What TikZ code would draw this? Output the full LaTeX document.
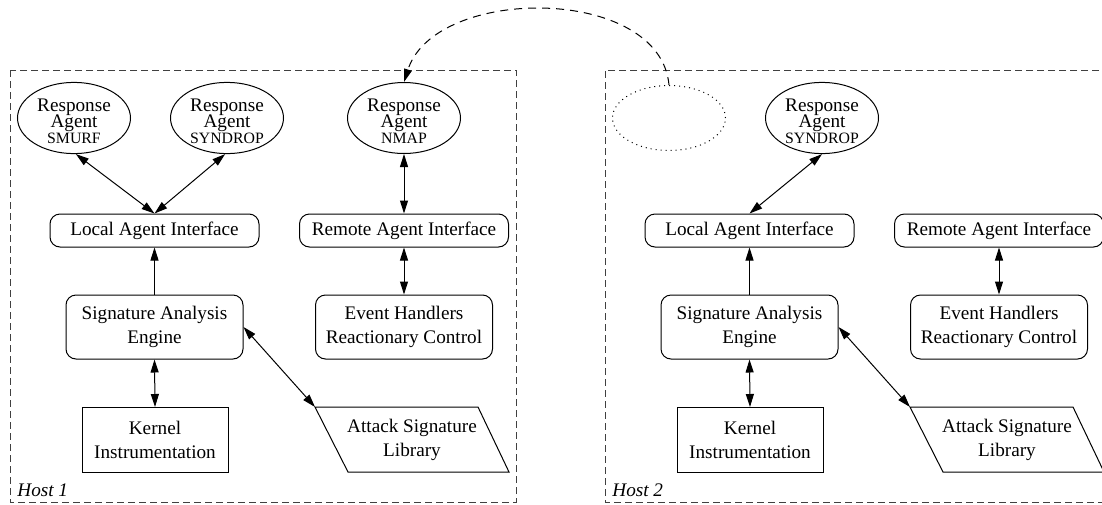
\documentclass[tikz,border=0pt]{standalone}
\usepackage{fontspec}
\setmainfont{Liberation Serif}
\usetikzlibrary{arrows.meta,shapes.geometric}
\tikzset{tip/.tip={Triangle[length=6.5pt,width=4pt]}}
\newcommand{\agentfont}{\fontsize{9.6}{7.9}\selectfont\lineskiplimit=-100pt\relax}
\newcommand{\smallcap}[1]{{\fontsize{7.9}{7.9}\selectfont #1}}
\newcommand{\topstrut}{\rule{0pt}{9.3pt}}
\begin{document}
\begin{tikzpicture}[x=0.5pt,y=-0.5pt,
  every node/.style={font=\fontsize{9.6}{12}\selectfont, inner sep=0pt, align=center},
  agent/.style={draw, ellipse, line width=0.5pt, minimum width=56.5pt, minimum height=32pt,
    font=\agentfont},
  ghost/.style={draw, ellipse, dotted, line width=0.5pt, minimum width=56.5pt, minimum height=32.5pt},
  iface/.style={draw, rounded corners=5pt, line width=0.5pt, minimum width=104.5pt, minimum height=16.5pt},
  engine/.style={draw, rounded corners=5pt, line width=0.5pt, minimum width=88.5pt, minimum height=32pt},
  kernel/.style={draw, line width=0.5pt, minimum width=73pt, minimum height=32.5pt},
  link/.style={line width=0.5pt, tip-tip},
  uplink/.style={line width=0.5pt, -tip},
  hostbox/.style={line width=0.5pt, black!75, dash pattern=on 3.5pt off 2pt},
  curvelink/.style={line width=0.5pt, dash pattern=on 4pt off 3pt, -tip},
  hostlabel/.style={anchor=base west, font=\fontsize{9.6}{12}\selectfont\itshape},
  libbox/.style={draw, line width=0.5pt, line join=miter}
]
\path[use as bounding box, clip] (0,0) rectangle (1102,504);

% ---------- Host 1 ----------
\draw[hostbox] (10,70) rectangle (516,502);
\node[hostlabel] (h1) at (17,496.5) {Host 1};

\node[agent] (smurfA) at (74,118) {\topstrut Response\\Agent\\\smallcap{SMURF}};
\node[agent] (synA) at (227,118) {\topstrut Response\\Agent\\\smallcap{SYNDROP}};
\node[agent] (nmapA) at (404,118) {\topstrut Response\\Agent\\\smallcap{NMAP}};

\node[iface] (laiA) at (154.5,230.5) {Local Agent Interface};
\node[iface] (raiA) at (404,230.5) {Remote Agent Interface};

\node[engine] (saeA) at (154.5,327) {Signature Analysis\\Engine};
\node[engine] (ehA) at (404,327) {Event Handlers\\Reactionary Control};

\node[kernel] (kiA) at (155,440) {Kernel\\Instrumentation};

\coordinate (aslAtl) at (315,407);
\draw[libbox] (aslAtl) -- (478,407) -- (509,472) -- (348,472) -- cycle;
\node (aslA) at (412,440) {Attack Signature\\Library};

\draw[link] (smurfA.-87) -- (laiA.north);
\draw[link] (synA.-93) -- (laiA.north);
\draw[link] (nmapA.south) -- (raiA.north);
\draw[uplink] (saeA.north) -- (laiA.south);
\draw[link] (raiA.south) -- (ehA.north);
\draw[link] (saeA.south) -- (kiA.north);
\draw[link] (saeA.east) -- (aslAtl);

% ---------- Host 2 ----------
\draw[hostbox] (1110,70) -| (605,502) -- (1110,502);
\node[hostlabel] (h2) at (612,496.5) {Host 2};

\node[ghost] (ghostB) at (669,118) {};
\node[agent] (synB) at (822,118) {\topstrut Response\\Agent\\\smallcap{SYNDROP}};

\node[iface] (laiB) at (749.5,230.5) {Local Agent Interface};
\node[iface] (raiB) at (999,230.5) {Remote Agent Interface};

\node[engine] (saeB) at (749.5,327) {Signature Analysis\\Engine};
\node[engine] (ehB) at (999,327) {Event Handlers\\Reactionary Control};

\node[kernel] (kiB) at (750,440) {Kernel\\Instrumentation};

\coordinate (aslBtl) at (910,407);
\draw[libbox] (aslBtl) -- (1073,407) -- (1104,472) -- (943,472) -- cycle;
\node (aslB) at (1007,440) {Attack Signature\\Library};

\draw[link] (synB.south) -- (laiB.north);
\draw[uplink] (saeB.north) -- (laiB.south);
\draw[link] (raiB.south) -- (ehB.north);
\draw[link] (saeB.south) -- (kiB.north);
\draw[link] (saeB.east) -- (aslBtl);

% ---------- migration ----------
\draw[curvelink] (ghostB.north) .. controls (660,-15) and (435,-15) .. (nmapA.north);
\end{tikzpicture}
\end{document}
